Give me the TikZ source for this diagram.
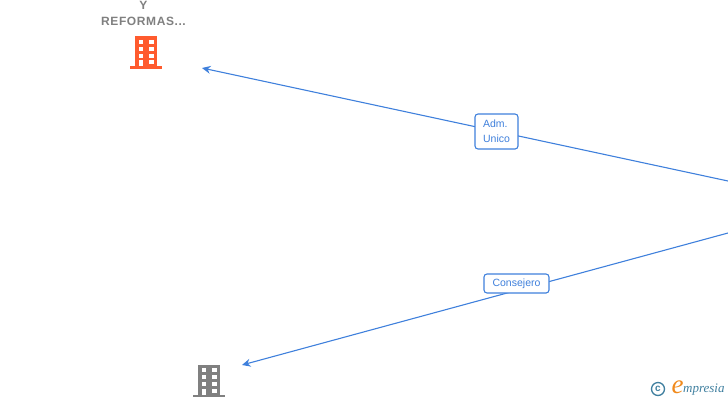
\documentclass[tikz,border=0pt]{standalone}
\usepackage{xcolor}
\usepackage{fontspec}
\setmainfont{Liberation Sans}
\newfontfamily\logofont{Liberation Serif}
\newfontfamily\namefont[LetterSpace=5]{Liberation Sans}
\definecolor{cLink}{HTML}{3F80DC}
\definecolor{cHot}{HTML}{FF5B2E}
\definecolor{cGray}{HTML}{808080}
\definecolor{cLogo}{HTML}{3F7F9F}
\definecolor{cLogoE}{HTML}{F08A1D}
\usetikzlibrary{positioning,arrows.meta}
\tikzset{
  node-label/.style={draw=cLink,line width=1.1pt,fill=white,rounded corners=3pt,inner sep=0pt,
    align=left,text=cLink,font=\fontsize{10.5}{15}\selectfont},
  node-name/.style={inner sep=0pt,align=center,text=cGray,font=\namefont\fontsize{12}{16}\selectfont\bfseries},
  node-logo/.style={inner sep=0pt,text=cLogo},
  arrow/.style={-{Stealth[length=3mm,width=2.8mm]},draw=cLink,line width=1.1pt},
  pics/building/.style={code={
    \fill[#1] (-11.25,-16) rectangle (11.25,14.5);
    \fill[#1] (-16,14) rectangle (16,16.5);
    \foreach \ypos in {-12.5,-5.5,1.5} {
      \fill[white] (-7.5,\ypos) rectangle ++(4.5,4);
      \fill[white] (3,\ypos) rectangle ++(4.5,4);
    }
    \fill[white] (-7.5,8) rectangle (-3,14);
    \fill[white] (3,8) rectangle (7.5,12);
  }},
}
\begin{document}
\begin{tikzpicture}[x=1pt,y=-1pt]
  \useasboundingbox (0,0) rectangle (728,400);
  % free ends
  \coordinate (offA) at (728,181);
  \coordinate (offB) at (728,233);
  \coordinate (tipA) at (202,68);
  \coordinate (tipB) at (242,365);
  \draw[arrow] (offA) -- (tipA);
  \draw[arrow] (offB) -- (tipB);
  \node[node-label,minimum width=43pt,minimum height=35pt] (adm) at (496.5,131.5) {Adm.\\Unico};
  \node[node-label,minimum width=65pt,minimum height=19pt] (cons) at (516.5,283.5) {Consejero};
  \node[node-name] (name) at (143.5,13) {Y\\REFORMAS...};
  \node[inner sep=0pt,minimum width=32pt,minimum height=32pt] (hot) at (146,52) {};
  \pic at (hot.center) {building=cHot};
  \node[inner sep=0pt,minimum width=32pt,minimum height=32pt] (gray) at (209,380.5) {};
  \pic at (gray.center) {building=cGray};
  % logo
  \node[draw=cLogo,line width=1.3pt,circle,minimum size=13pt,inner sep=0pt] (copy) at (658,389) {};
  \node[node-logo,font=\fontsize{10}{10}\selectfont\bfseries] at (copy.center) {c};
  \node[inner sep=0pt,text=cLogoE,font=\logofont\fontsize{27}{27}\selectfont\itshape] (logoe) at (677.5,387) {e};
  \node[node-logo,anchor=west,font=\logofont\fontsize{13}{13}\selectfont\itshape] (logot) at (683,390) {mpresia};
\end{tikzpicture}
\end{document}
